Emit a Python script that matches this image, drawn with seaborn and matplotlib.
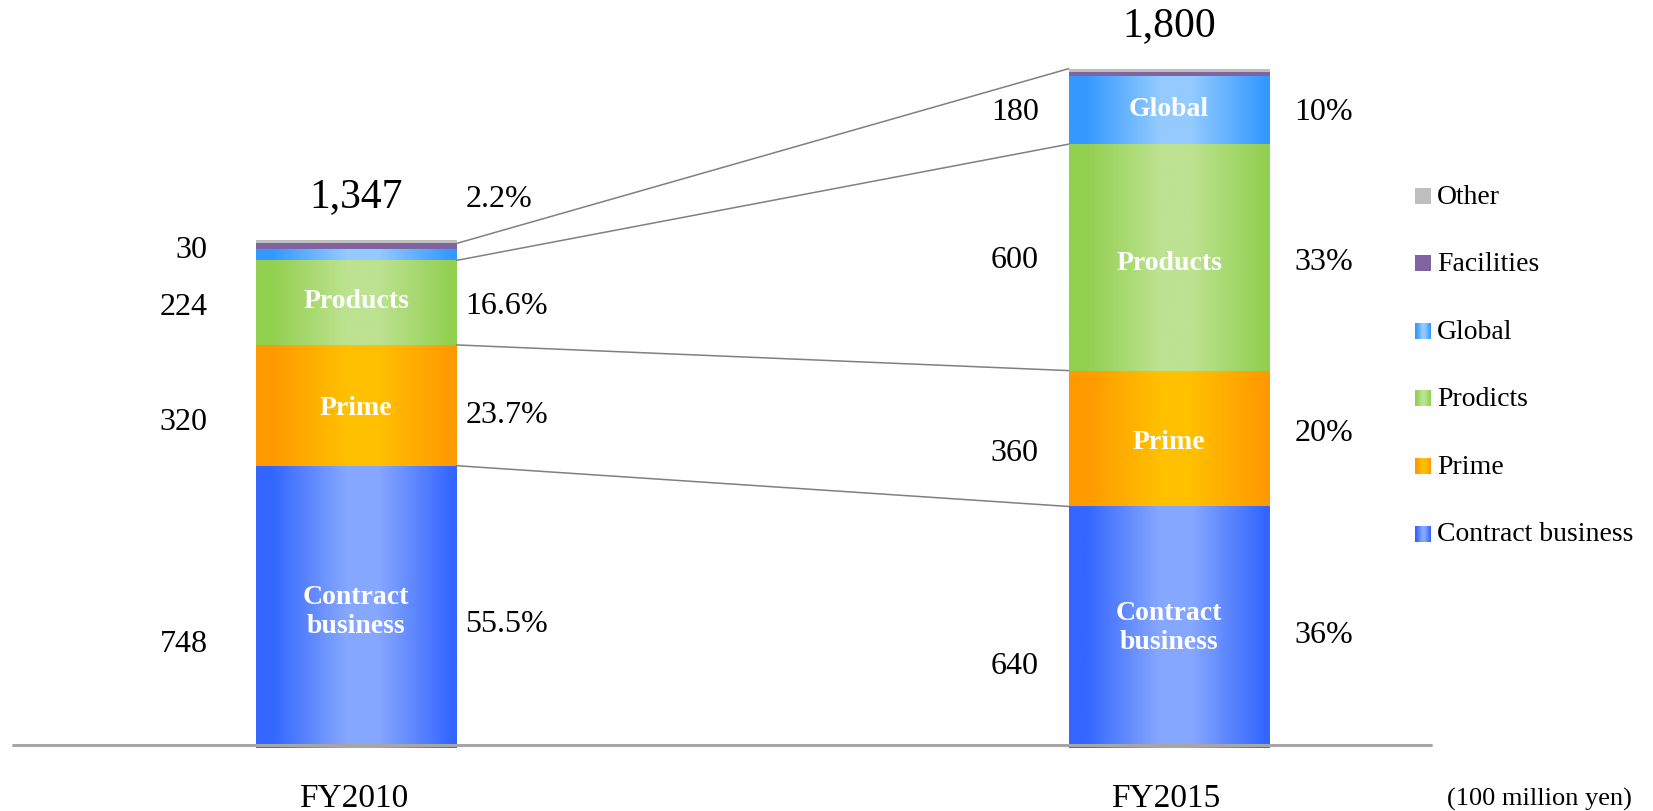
import numpy as np
import pandas as pd
import matplotlib
matplotlib.use("Agg")
import matplotlib.pyplot as plt
from matplotlib.colors import LinearSegmentedColormap
import seaborn as sns

# ---- data (100 million yen) ----
years = ["FY2010", "FY2015"]
segments = ["Contract business", "Prime", "Products", "Global", "Facilities", "Other"]
contract = [748, 640]
prime = [320, 360]
products = [224, 600]
global_sales = [30, 180]
facilities = [15, 10]
other = [10, 10]
shares_2010 = [55.5, 23.7, 16.6, 2.2]
shares_2015 = [36, 20, 33, 10]
inner_2010 = ["Contract\nbusiness", "Prime", "Products", ""]
inner_2015 = ["Contract\nbusiness", "Prime", "Products", "Global"]
legend_labels = ["Other", "Facilities", "Global", "Prodicts", "Prime", "Contract business"]
unit_label = "(100 million yen)"

# ---- style ----
edge_colors = ["#3366ff", "#ff9900", "#92d050", "#3399ff", "#8064a2", "#bfbfbf"]
mid_colors = ["#86a7ff", "#ffc000", "#bde290", "#93caff", "#8064a2", "#bfbfbf"]

sns.set_theme(style="white")
plt.rcParams["font.family"] = ["Liberation Serif", "DejaVu Serif"]

fig = plt.figure(figsize=(16.53, 8.12), dpi=100)
ax = fig.add_axes([0, 0, 1, 1])

BAR_W = 0.247
stack = np.vstack([contract, prime, products, global_sales, facilities, other]).astype(float)
tops = np.cumsum(stack, axis=0)
bottoms = tops - stack

# horizontal shading profile: darker at the edges, light in the middle
xs = np.linspace(0, 1, 256)
profile = 1 - np.clip((np.abs(xs - 0.53) - 0.08) / 0.37, 0, 1)
cmaps = [LinearSegmentedColormap.from_list(f"c{i}", [e, m])
         for i, (e, m) in enumerate(zip(edge_colors, mid_colors))]

for i, name in enumerate(segments):
    df = pd.DataFrame({"year": years, "value": stack[i]})
    sns.barplot(data=df, x="year", y="value", order=years, bottom=bottoms[i],
                color=edge_colors[i], saturation=1, width=BAR_W, linewidth=0,
                errorbar=None, ax=ax)
    for patch in ax.containers[-1]:
        x0, y0 = patch.get_xy()
        w, h = patch.get_width(), patch.get_height()
        img = ax.imshow(profile[np.newaxis, :], cmap=cmaps[i], vmin=0, vmax=1,
                        extent=[x0, x0 + w, y0, y0 + h], aspect="auto",
                        interpolation="bilinear", zorder=patch.get_zorder() + 0.1)
        img.set_clip_path(patch)

# connector lines between the two bars
xl, xr = 0 + BAR_W / 2, 1 - BAR_W / 2
for li, ri in [(0, 0), (1, 1), (2, 2), (4, 5)]:
    ax.plot([xl, xr], [tops[li, 0], tops[ri, 1]], color="#808080", lw=1.1, zorder=3)

# baseline
ax.axhline(8, xmin=0.0076, xmax=0.866, color="#a6a6a6", lw=2.2, zorder=4)

# labels
value_dx = [-48, -30]
share_dx = [8.5, 25]
value_dy = [[-37, -16, -4, 5], [-38, -14, -2, -1]]
share_dy = [[-17, -9.5, -3, 56], [-7, 6, -4, -1]]
shares = [shares_2010, shares_2015]
inners = [inner_2010, inner_2015]
inner_dy = [[-4, -2, 2, 0], [0, -3, -5, 2]]

for b in range(2):
    for s in range(4):
        mid = bottoms[s, b] + stack[s, b] / 2
        ax.annotate(f"{int(stack[s, b])}", xy=(b - BAR_W / 2, mid),
                    xytext=(value_dx[b], value_dy[b][s]), textcoords="offset pixels",
                    ha="right", va="center", fontsize=23, color="black")
        sh = shares[b][s]
        sh_txt = f"{sh:g}%" if b == 1 else f"{sh:.1f}%"
        ax.annotate(sh_txt, xy=(b + BAR_W / 2, mid),
                    xytext=(share_dx[b], share_dy[b][s]), textcoords="offset pixels",
                    ha="left", va="center", fontsize=23, color="black")
        if inners[b][s]:
            ax.annotate(inners[b][s], xy=(b, mid), xytext=(0, inner_dy[b][s]),
                        textcoords="offset pixels", ha="center", va="center",
                        fontsize=20, fontweight="bold", color="white",
                        linespacing=1.2, zorder=5)
    total = int(tops[-1, b])
    ax.annotate(f"{total:,}", xy=(b, total), xytext=(0, 44), textcoords="offset pixels",
                ha="center", va="center", fontsize=30, color="black")
    ax.annotate(years[b], xy=(b, 0), xytext=(-3, -50), textcoords="offset pixels",
                ha="center", va="center", fontsize=24, color="black")

ax.text(0.9873, 0.016, unit_label, transform=ax.transAxes, ha="right", va="center",
        fontsize=19, color="black")

# legend (top to bottom: Other ... Contract business)
leg_order = [5, 4, 3, 2, 1, 0]
sw_x0, sw_w, sw_h = 0.856, 0.0095, 0.0185
for k, (si, lab) in enumerate(zip(leg_order, legend_labels)):
    yc = 1 - (197 + k * 67.6) / 812
    ax.imshow(profile[np.newaxis, :], cmap=cmaps[si], vmin=0, vmax=1,
              extent=[sw_x0, sw_x0 + sw_w, yc - sw_h / 2, yc + sw_h / 2],
              transform=ax.transAxes, aspect="auto", interpolation="bilinear", zorder=5)
    ax.text(sw_x0 + 0.0135, yc, lab, transform=ax.transAxes, ha="left", va="center",
            fontsize=20, color="black")

ax.set_xlim(-0.4384, 1.5955)
ax.set_ylim(-166.9, 1984.6)
ax.set_axis_off()

fig.savefig("out.png", dpi=100)
